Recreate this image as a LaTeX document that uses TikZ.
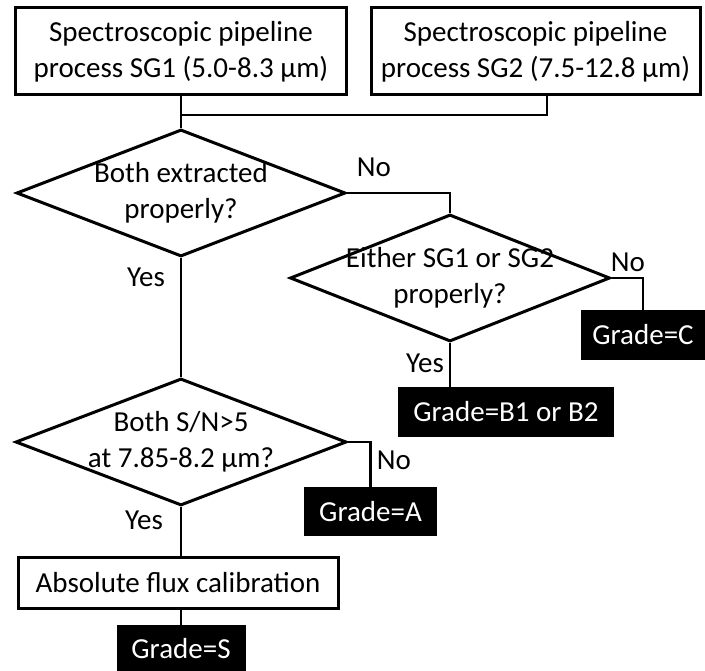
\documentclass[tikz,border=0pt]{standalone}
\usepackage{fontspec}
\setmainfont{Carlito}
\usetikzlibrary{shapes.geometric, positioning, calc}
\tikzset{
  proc/.style={draw, line width=3pt, inner sep=0pt, align=center},
  dec/.style={diamond, draw, line width=3pt, inner sep=0pt},
  dtxt/.style={align=center, inner sep=0pt},
  grade/.style={fill=black, text=white, minimum height=50pt, inner sep=0pt},
  lab/.style={inner sep=0pt},
  con/.style={line width=2.8pt}
}
\begin{document}
\begin{tikzpicture}[x=1pt, y=-1pt, font=\fontsize{29}{36}\selectfont]
	\useasboundingbox (0,0) rectangle (705,671);
	% pipeline boxes
	\node[proc, minimum width=331pt, minimum height=87pt] (sg1) at (181,51.5) {Spectroscopic pipeline\\process SG1 (5.0-8.3 µm)};
	\node[proc, minimum width=329pt, minimum height=87pt] (sg2) at (535.5,51.5) {Spectroscopic pipeline\\process SG2 (7.5-12.8 µm)};
	\coordinate (j1) at (181,115);
	\coordinate (j2) at (547,115);
	% decisions
	\node[dec, minimum width=329pt, minimum height=127pt] (both) at (181,193) {};
	\node[dtxt] (bothtxt) at (both) {Both extracted\\properly?};
	\node[dec, minimum width=320pt, minimum height=127pt] (either) at (450,278) {};
	\node[dtxt] (eithertxt) at (either) {Either SG1 or SG2\\properly?};
	\node[dec, minimum width=331pt, minimum height=127pt] (sn) at (181,442) {};
	\node[dtxt] (sntxt) at (sn) {Both S/N>5\\at 7.85-8.2 µm?};
	% flux calibration
	\node[proc, minimum width=320pt, minimum height=51pt] (flux) at (178,582.5) {Absolute flux calibration};
	% grades
	\node[grade, minimum width=124pt] (gradeC) at (643,335) {Grade=C};
	\node[grade, minimum width=216pt] (gradeB) at (506,412) {Grade=B1 or B2};
	\node[grade, minimum width=133pt, minimum height=49pt] (gradeA) at (370.5,511.5) {Grade=A};
	\node[grade, minimum width=129pt, minimum height=48pt] (gradeS) at (181,649) {Grade=S};
	% connectors
	\draw[con] (sg1.south) -- (both.north);
	\draw[con] (sg2.south -| j2) -- (j2) -- (j1);
	\draw[con] (both.east) -| (either.north);
	\draw[con] (either.east) -| (gradeC.north);
	\draw[con] (either.south) -- (either.south |- gradeB.north);
	\draw[con] (both.south) -- (sn.north);
	\draw[con] (sn.east) -| (gradeA.north);
	\draw[con] (sn.south) -- (sn.south |- flux.north);
	\draw[con] (flux.south -| gradeS) -- (gradeS.north);
	% yes / no
	\node[lab] (no1) at (374,167) {No};
	\node[lab] (yes1) at (146,277) {Yes};
	\node[lab] (no2) at (628,262) {No};
	\node[lab] (yes2) at (425,363) {Yes};
	\node[lab] (no3) at (394,460) {No};
	\node[lab] (yes3) at (144,520) {Yes};
\end{tikzpicture}
\end{document}
